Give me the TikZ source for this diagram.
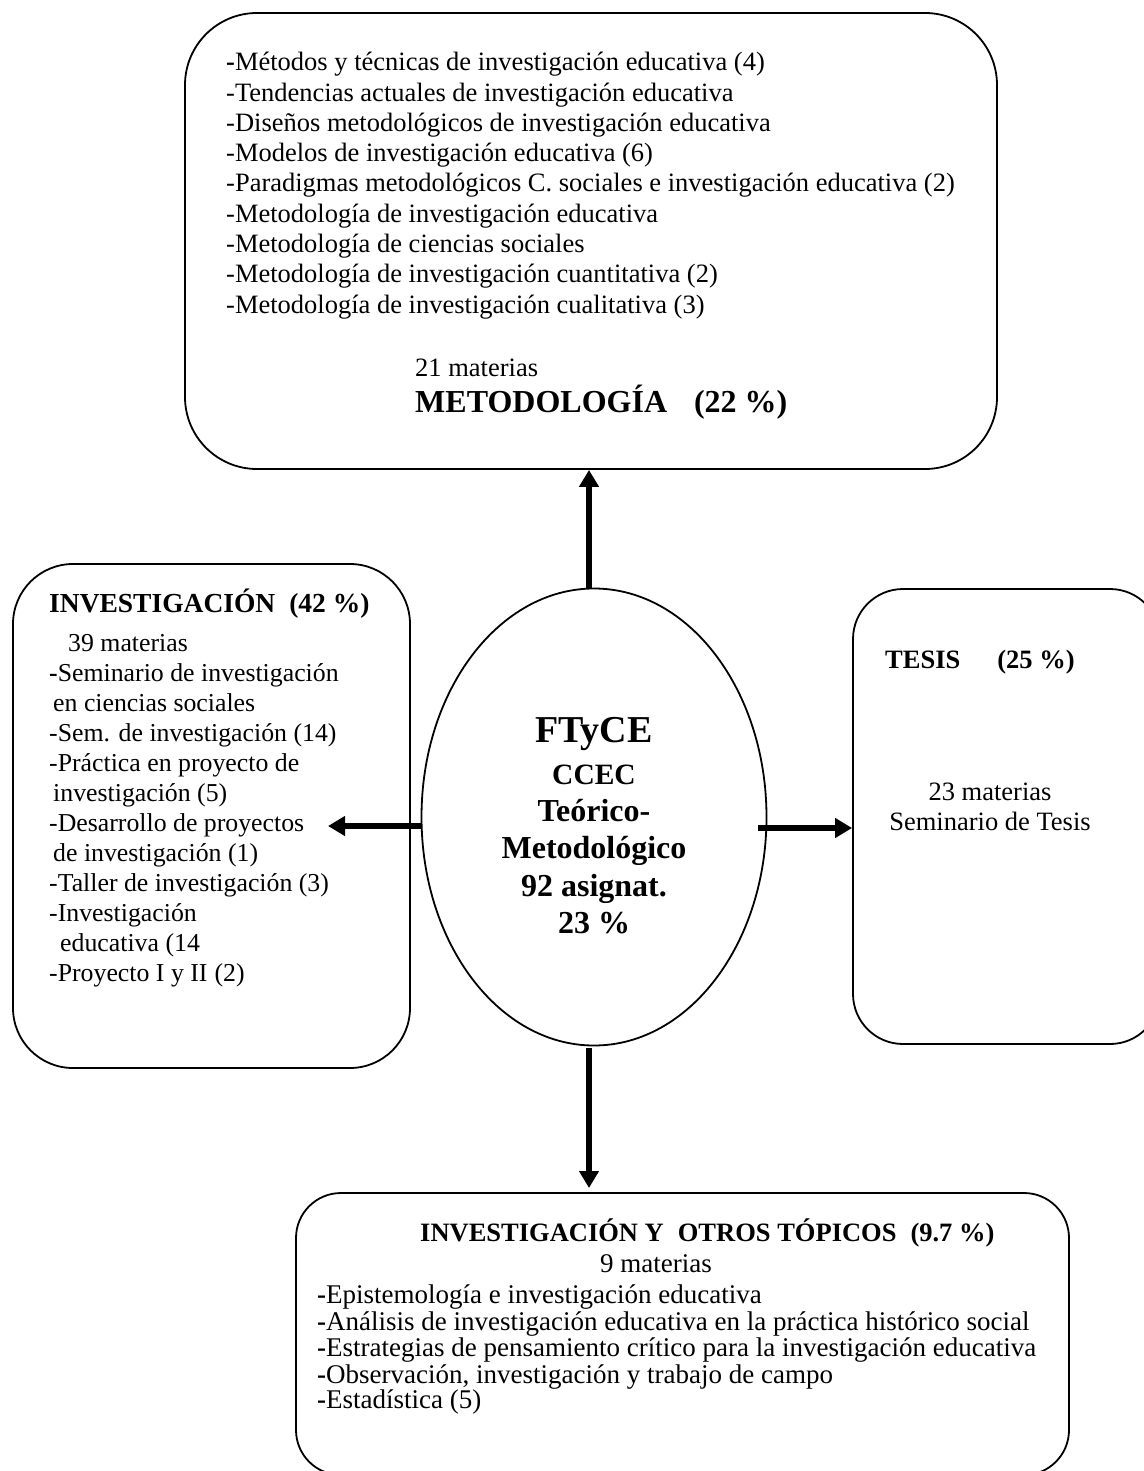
\documentclass[tikz,border=0pt]{standalone}
\usepackage{fontspec}
\setmainfont{Liberation Serif}
\usetikzlibrary{arrows.meta,shapes.geometric}
\newcommand\fBody{\fontsize{26.5}{30}\selectfont}
\newcommand\fLeft{\fontsize{25.8}{30}\selectfont}
\newcommand\fBot{\fontsize{27}{30}\selectfont}
\newcommand\fHead{\fontsize{26.5}{31}\selectfont\bfseries}
\newcommand\fEll{\fontsize{32}{37}\selectfont\bfseries}
\newcommand\fBig{\fontsize{38}{44}\selectfont\bfseries}
\begin{document}
\begin{tikzpicture}[x=1pt,y=-1pt,
  box/.style={draw, line width=1.8pt, inner sep=0pt},
  txt/.style={anchor=base west, inner sep=0pt, font=\fBody},
  ltxt/.style={anchor=base west, inner sep=0pt, font=\fLeft},
  btxt/.style={anchor=base west, inner sep=0pt, font=\fBot},
  ctxt/.style={anchor=base, inner sep=0pt, font=\fBody},
  etxt/.style={anchor=base, inner sep=0pt, font=\fEll},
  arr/.style={line width=6pt, -{Triangle[width=19pt,length=17pt]}}]
\useasboundingbox (0,0) rectangle (1143,1471);
\fill[white] (0,0) rectangle (1143,1471);

% boxes
\node[box, rounded corners=72pt, minimum width=812pt, minimum height=456pt] (top) at (591,241) {};
\node[box, rounded corners=60pt, minimum width=397pt, minimum height=504pt] (lbox) at (211.5,816) {};
\node[box, rounded corners=50pt, minimum width=307pt, minimum height=455pt] (rbox) at (1006.5,816.5) {};
\node[box, rounded corners=45pt, minimum width=773pt, minimum height=282pt] (bbox) at (682.5,1334) {};
\node[draw, ellipse, line width=1.8pt, inner sep=0pt, minimum width=345pt, minimum height=457pt] (ell) at (594,817) {};

% top box text
\node[txt] (m0) at (226,71) {\textbf{-}Métodos y técnicas de investigación educativa (4)};
\node[txt] (m1) at (226,101.25) {-Tendencias actuales de investigación educativa};
\node[txt] (m2) at (226,131.5) {-Diseños metodológicos de investigación educativa};
\node[txt] (m3) at (226,161.75) {-Modelos de investigación educativa (6)};
\node[txt] (m4) at (226,192) {-Paradigmas metodológicos C. sociales e investigación educativa (2)};
\node[txt] (m5) at (226,222.25) {-Metodología de investigación educativa};
\node[txt] (m6) at (226,252.5) {-Metodología de ciencias sociales};
\node[txt] (m7) at (226,282.75) {-Metodología de investigación cuantitativa (2)};
\node[txt] (m8) at (226,313) {-Metodología de investigación cualitativa (3)};
\node[txt] (mcount) at (415,376) {21 materias};
\node[txt, font=\fEll] (mhead) at (415,412) {METODOLOGÍA\hspace{27pt}(22~\%)};

% left box text
\node[ltxt, font=\fontsize{27.5}{31}\selectfont\bfseries] (lhead) at (49,612) {INVESTIGACIÓN\hspace{14pt}(42~\%)};
\node[ltxt] (l0) at (68,651) {39 materias};
\node[ltxt] (l1) at (49,681) {\textbf{-}Seminario de investigación};
\node[ltxt] (l2) at (53,711) {en ciencias sociales};
\node[ltxt] (l3) at (49,741) {-Sem. de investigación (14)};
\node[ltxt] (l4) at (49,771) {-Práctica en proyecto de};
\node[ltxt] (l5) at (53,801) {investigación (5)};
\node[ltxt] (l6) at (49,831) {-Desarrollo de proyectos};
\node[ltxt] (l7) at (53,861) {de investigación (1)};
\node[ltxt] (l8) at (49,891) {-Taller de investigación (3)};
\node[ltxt] (l9) at (49,921) {-Investigación};
\node[ltxt] (l10) at (60,951) {educativa (14};
\node[ltxt] (l11) at (49,981) {-Proyecto I y II\hspace{7pt}(2)};

% right box text
\node[txt, font=\fHead] (rhead) at (885,668) {TESIS\hspace{37pt}(25~\%)};
\node[ctxt] (r0) at (990,800) {23 materias};
\node[ctxt] (r1) at (990,830) {Seminario de Tesis};

% ellipse text
\node[etxt, font=\fBig] (e0) at (594,742) {FTyCE};
\node[etxt, font=\fontsize{29.5}{35}\selectfont\bfseries] (e1) at (594,784) {CCEC};
\node[etxt] (e2) at (594,821) {Teórico-};
\node[etxt] (e3) at (594,858) {Metodológico};
\node[etxt] (e4) at (594,896) {92 asignat.};
\node[etxt] (e5) at (594,933) {23 \%};

% bottom box text
\node[txt, font=\fHead] (bhead) at (420,1241) {INVESTIGACIÓN Y\hspace{14pt}OTROS TÓPICOS\hspace{14pt}(9.7~\%)};
\node[btxt] (b0) at (600,1272) {9 materias};
\node[btxt] (b1) at (317,1303) {\textbf{-}Epistemología e investigación educativa};
\node[btxt] (b2) at (317,1330) {\textbf{-}Análisis de investigación educativa en la práctica histórico social};
\node[btxt] (b3) at (317,1356) {\textbf{-}Estrategias de pensamiento crítico para la investigación educativa};
\node[btxt] (b4) at (317,1383) {\textbf{-}Observación, investigación y trabajo de campo};
\node[btxt] (b5) at (317,1408) {\textbf{-}Estadística (5)};

% connectors
\coordinate (upS) at ([xshift=-5pt]ell.north);
\draw[arr] (upS) -- (upS |- top.south);
\coordinate (lS) at ([yshift=-9pt]ell.west);
\coordinate (lT) at (328,826);
\draw[arr] (lS) -- (lT);
\coordinate (rS) at (758,828);
\draw[arr] (rS) -- (rS -| rbox.west);
\coordinate (dS) at (589,1048);
\coordinate (dT) at (589,1188);
\draw[arr] (dS) -- (dT);
\end{tikzpicture}
\end{document}
